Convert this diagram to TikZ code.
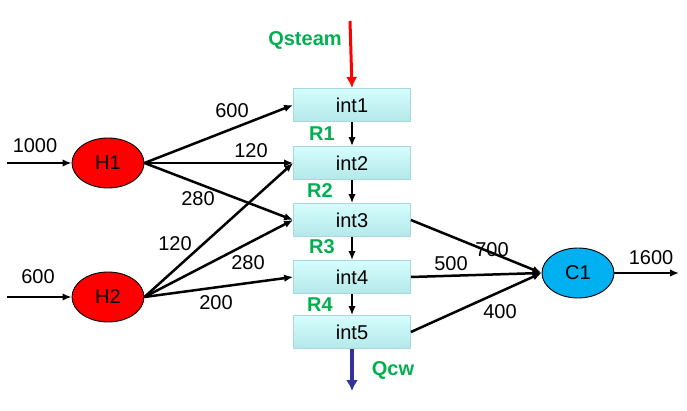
\documentclass[tikz,border=0pt]{standalone}
\usepackage{fontspec}
\setmainfont{Liberation Sans}
\usetikzlibrary{shapes.geometric,arrows.meta,shadows}
\definecolor{qgreen}{HTML}{00B050}
\definecolor{qred}{HTML}{FF0000}
\definecolor{qblue}{HTML}{333399}
\definecolor{qcyan}{HTML}{00B0F0}
\definecolor{boxtop}{HTML}{D6FDFD}
\definecolor{boxbot}{HTML}{B4E8EA}
\definecolor{boxline}{HTML}{A8D8DC}
\begin{document}
\begin{tikzpicture}[x=1pt,y=-1pt,
  every node/.style={font=\fontsize{20}{22}\selectfont},
  intbox/.style={rectangle, minimum width=117pt, minimum height=33pt, inner sep=0pt,
    top color=boxtop, bottom color=boxbot, draw=boxline, line width=0.8pt},
  unit/.style={ellipse, minimum width=72pt, minimum height=50pt, inner sep=0pt, draw=black, line width=0.9pt},
  flow/.style={-{Latex[length=9pt,width=7.5pt]}, line width=2.5pt, black},
  lbl/.style={inner sep=0pt},
  glbl/.style={inner sep=0pt, text=qgreen, font=\fontsize{20}{22}\selectfont\bfseries}]
\useasboundingbox (0,0) rectangle (687,411);
% units
\node[unit, fill=qred] (H1) at (108,163) {H1};
\node[unit, fill=qred] (H2) at (108,297) {H2};
\node[unit, fill=qcyan] (C1) at (578,273) {C1};
% boxes
\node[intbox] (i1) at (352,105) {int1};
\node[intbox] (i2) at (352,163) {int2};
\node[intbox] (i3) at (352,220) {int3};
\node[intbox] (i4) at (352,277) {int4};
\node[intbox] (i5) at (352,332) {int5};
% free ends
\coordinate (in1) at (7,163);
\coordinate (in2) at (7,297);
\coordinate (out) at (679,273);
\coordinate (qs) at (350,21);
\coordinate (qc) at (352,391);
% inputs
\draw[flow] (in1) -- (H1);
\draw[flow] (in2) -- (H2);
\node[lbl] at (35,146) {1000};
\node[lbl] at (38,277) {600};
% H1 edges
\draw[flow] (H1.east) -- (i1.west);
\draw[flow] (H1.east) -- (i2.west);
\draw[flow] (H1.east) -- (i3.west);
% H2 edges
\draw[flow] (H2.east) -- (i2.west);
\draw[flow] (H2.east) -- (i3.west);
\draw[flow] (H2.east) -- (i4.west);
\node[lbl] at (232,111) {600};
\node[lbl] at (251,151) {120};
\node[lbl] at (198,199) {280};
\node[lbl] at (175,244) {120};
\node[lbl] at (248,263) {280};
\node[lbl] at (216,303) {200};
% vertical
\draw[flow, line width=2pt] (i1) -- (i2);
\draw[flow, line width=2pt] (i2) -- (i3);
\draw[flow, line width=2pt] (i3) -- (i4);
\draw[flow, line width=2pt] (i4) -- (i5);
\node[glbl] at (322,134) {R1};
\node[glbl] at (320,191) {R2};
\node[glbl] at (322,247) {R3};
\node[glbl] at (320,305) {R4};
% steam / cw
\draw[-{Latex[length=11pt,width=11pt]}, line width=3pt, qred] (qs) -- (i1.north);
\draw[-{Latex[length=11pt,width=12pt]}, line width=4.5pt, qblue] (i5.south) -- (qc);
\node[glbl] at (305,40) {Qsteam};
\node[glbl] at (393,370) {Qcw};
% to C1
\draw[flow] (i3.east) -- (C1.west);
\draw[flow] (i4.east) -- (C1.west);
\draw[flow] (i5.east) -- (C1.west);
\node[lbl] at (492,250) {700};
\node[lbl] at (451,264) {500};
\node[lbl] at (500,312) {400};
\draw[flow] (C1) -- (out);
\node[lbl] at (651,258) {1600};
\end{tikzpicture}
\end{document}
